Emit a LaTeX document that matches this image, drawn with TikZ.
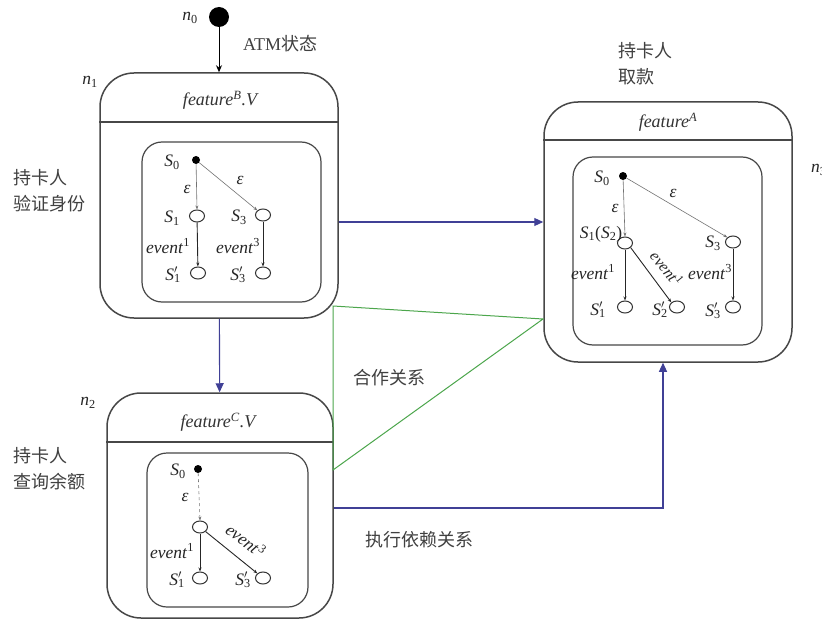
\documentclass[tikz,border=0pt]{standalone}
\usepackage{fontspec}
\setmainfont{Liberation Serif}
\newfontfamily\cjk{Noto Sans CJK SC}
\usetikzlibrary{arrows.meta,shapes.geometric}

% state labels
\newcommand{\Sl}[1]{\textit{S}\textsubscript{#1}}
\newcommand{\Sp}[1]{\textit{S}\rlap{\textsuperscript{$\prime$}}\textsubscript{#1}}
\newcommand{\ev}[1]{\textit{event}\textsuperscript{#1}}

\begin{document}
\begin{tikzpicture}[x=1pt,y=-1pt,
  outerbox/.style={draw=black!72, line width=1.5pt, rounded corners=34pt, inner sep=0pt},
  innerbox/.style={draw=black!72, line width=1.2pt, rounded corners=20pt, inner sep=0pt},
  st/.style={ellipse, draw=black!80, line width=1pt, minimum width=15pt, minimum height=12pt, inner sep=0pt},
  init/.style={circle, fill=black, minimum size=8pt, inner sep=0pt},
  lbl/.style={font=\fontsize{17.5}{17.5}\selectfont, inner sep=0pt, text=black!85},
  title/.style={font=\fontsize{18}{18}\selectfont\itshape, inner sep=0pt, text=black!80},
  zh/.style={font=\cjk\fontsize{18}{26}\selectfont, inner sep=0pt, text=black!75, align=left},
  eps/.style={draw=black!55, line width=0.6pt, -{Stealth[length=4pt,width=3pt]}},
  evt/.style={draw=black!85, line width=0.9pt, -{Stealth[length=4pt,width=3pt]}},
  dep/.style={draw=blue!45!black!75, line width=1.1pt, -{Triangle[length=9pt,width=8pt]}},
  coop/.style={draw=green!50!black!70, line width=1pt}
]
\clip (0,0) rectangle (822,623);
\fill[white] (0,0) rectangle (822,623);

% ---------- start state n0 ----------
\node[circle, fill=black, minimum size=20pt, inner sep=0pt] (n0) at (219,17) {};
\node[lbl] (n0l) at (190,18) {\textit{n}\textsubscript{0}};
\node[zh, anchor=west] (atm) at (243,44) {\fontspec{Liberation Serif}ATM\cjk 状态};

% ---------- n1 ----------
\node[outerbox, minimum width=238pt, minimum height=245pt] (n1) at (219,195.5) {};
\draw[draw=black!72, line width=1.5pt] (n1.west |- 0,122) -- (n1.east |- 0,122);
\node[title] (t1) at (220,100) {feature\textsuperscript{B}.V};
\node[lbl] (n1l) at (90,82) {\textit{n}\textsubscript{1}};
\node[innerbox, minimum width=179pt, minimum height=160pt] (b1) at (231.5,222) {};
\node[zh, anchor=west] (z1) at (13,191) {持卡人\\验证身份};

\node[init] (a0) at (196,160) {};
\node[st] (a1) at (197,216) {};
\node[st] (a3) at (263,215) {};
\node[st] (a1p) at (198,273) {};
\node[st] (a3p) at (263,273) {};
\draw[eps] (a0) -- (a1.north);
\draw[eps] (a0) -- (a3.north west);
\draw[evt] (a1) -- (a1p);
\draw[evt] (a3) -- (a3p);
\node[lbl] (a0l) at (172,162) {\Sl{0}};
\node[lbl] (e1) at (187,189) {\textit{ε}};
\node[lbl] (e2) at (240,180) {\textit{ε}};
\node[lbl] (a1l) at (172,218) {\Sl{1}};
\node[lbl] (a3l) at (239,217) {\Sl{3}};
\node[lbl] (v1) at (168,246) {\ev{1}};
\node[lbl] (v3) at (238,246) {\ev{3}};
\node[lbl] (a1pl) at (173,275) {\Sp{1}};
\node[lbl] (a3pl) at (238,275) {\Sp{3}};

% ---------- n2 ----------
\node[outerbox, minimum width=226pt, minimum height=225pt] (n2) at (220,505.5) {};
\draw[draw=black!72, line width=1.5pt] (n2.west |- 0,442) -- (n2.east |- 0,442);
\node[title] (t2) at (218,422) {feature\textsuperscript{C}.V};
\node[lbl] (n2l) at (88,403) {\textit{n}\textsubscript{2}};
\node[innerbox, minimum width=161pt, minimum height=154pt] (b2) at (227.5,530) {};
\node[zh, anchor=west] (z2) at (13,469) {持卡人\\查询余额};

\node[init] (c0) at (198,469) {};
\node[st] (c1) at (200,527) {};
\node[st] (c1p) at (200,578) {};
\node[st] (c3p) at (263,578) {};
\draw[eps, dashed] (c0) -- (c1.north);
\draw[evt] (c1) -- (c1p);
\draw[evt] (c1.south east) -- (c3p.north west);
\node[lbl] (c0l) at (178,471) {\Sl{0}};
\node[lbl] (e3) at (185,497) {\textit{ε}};
\node[lbl] (w1) at (172,551) {\ev{1}};
\node[lbl, rotate=-38] (w3) at (246,540) {\ev{3}};
\node[lbl] (c1pl) at (177,580) {\Sp{1}};
\node[lbl] (c3pl) at (243,580) {\Sp{3}};

% ---------- nA ----------
\node[outerbox, minimum width=248pt, minimum height=260pt] (nA) at (668,232) {};
\draw[draw=black!72, line width=1.5pt] (nA.west |- 0,140) -- (nA.east |- 0,140);
\node[title] (tA) at (668,122) {feature\textsuperscript{A}};
\node[lbl, anchor=west] (nAl) at (811,170) {\textit{n}\textsubscript{3}};
\node[innerbox, minimum width=189pt, minimum height=188pt] (bA) at (667.5,251) {};
\node[zh, anchor=west] (zA) at (618,64) {持卡人\\取款};

\node[init] (d0) at (623,176) {};
\node[st] (d1) at (625,243) {};
\node[st] (d3) at (733,242) {};
\node[st] (d1p) at (625,307) {};
\node[st] (d2p) at (677,307) {};
\node[st] (d3p) at (733,307) {};
\draw[eps] (d0) -- (d1.north);
\draw[eps] (d0) -- (d3.north west);
\draw[evt] (d1) -- (d1p);
\draw[evt] (d1.south east) -- (d2p.north west);
\draw[evt] (d3) -- (d3p);
\node[lbl] (d0l) at (602,178) {\Sl{0}};
\node[lbl] (e4) at (615,208) {\textit{ε}};
\node[lbl] (e5) at (673,193) {\textit{ε}};
\node[lbl] (d1l) at (601,234) {\Sl{1}(\Sl{2})};
\node[lbl] (d3l) at (713,243) {\Sl{3}};
\node[lbl] (x1) at (593,272) {\ev{1}};
\node[lbl, font=\fontsize{16}{16}\selectfont, rotate=-51] (x2) at (667,268) {\ev{1}};
\node[lbl] (x3) at (710,272) {\ev{3}};
\node[lbl] (d1pl) at (598,310) {\Sp{1}};
\node[lbl] (d2pl) at (660,310) {\Sp{2}};
\node[lbl] (d3pl) at (713,311) {\Sp{3}};

% ---------- connectors ----------
\draw[draw=black, line width=1pt, -{Stealth[length=7pt,width=6pt]}] (n0) -- (n1);
\draw[dep] (n1) -- (n2);
\draw[dep] (n1.east |- 0,222) -- (nA.west |- 0,222);
\coordinate (bend) at (663,508);
\draw[dep] (n2.east |- bend) -- (bend) -- (bend |- nA.south);

% cooperation triangle
\coordinate (g1) at (333,306);
\coordinate (g2) at (543,319);
\coordinate (g3) at (333,470);
\draw[coop] (g1) -- (g2) -- (g3) -- cycle;
\node[zh, anchor=west] (coopl) at (353,378) {合作关系};
\node[zh, anchor=west] (depl) at (365,540) {执行依赖关系};
\end{tikzpicture}
\end{document}
